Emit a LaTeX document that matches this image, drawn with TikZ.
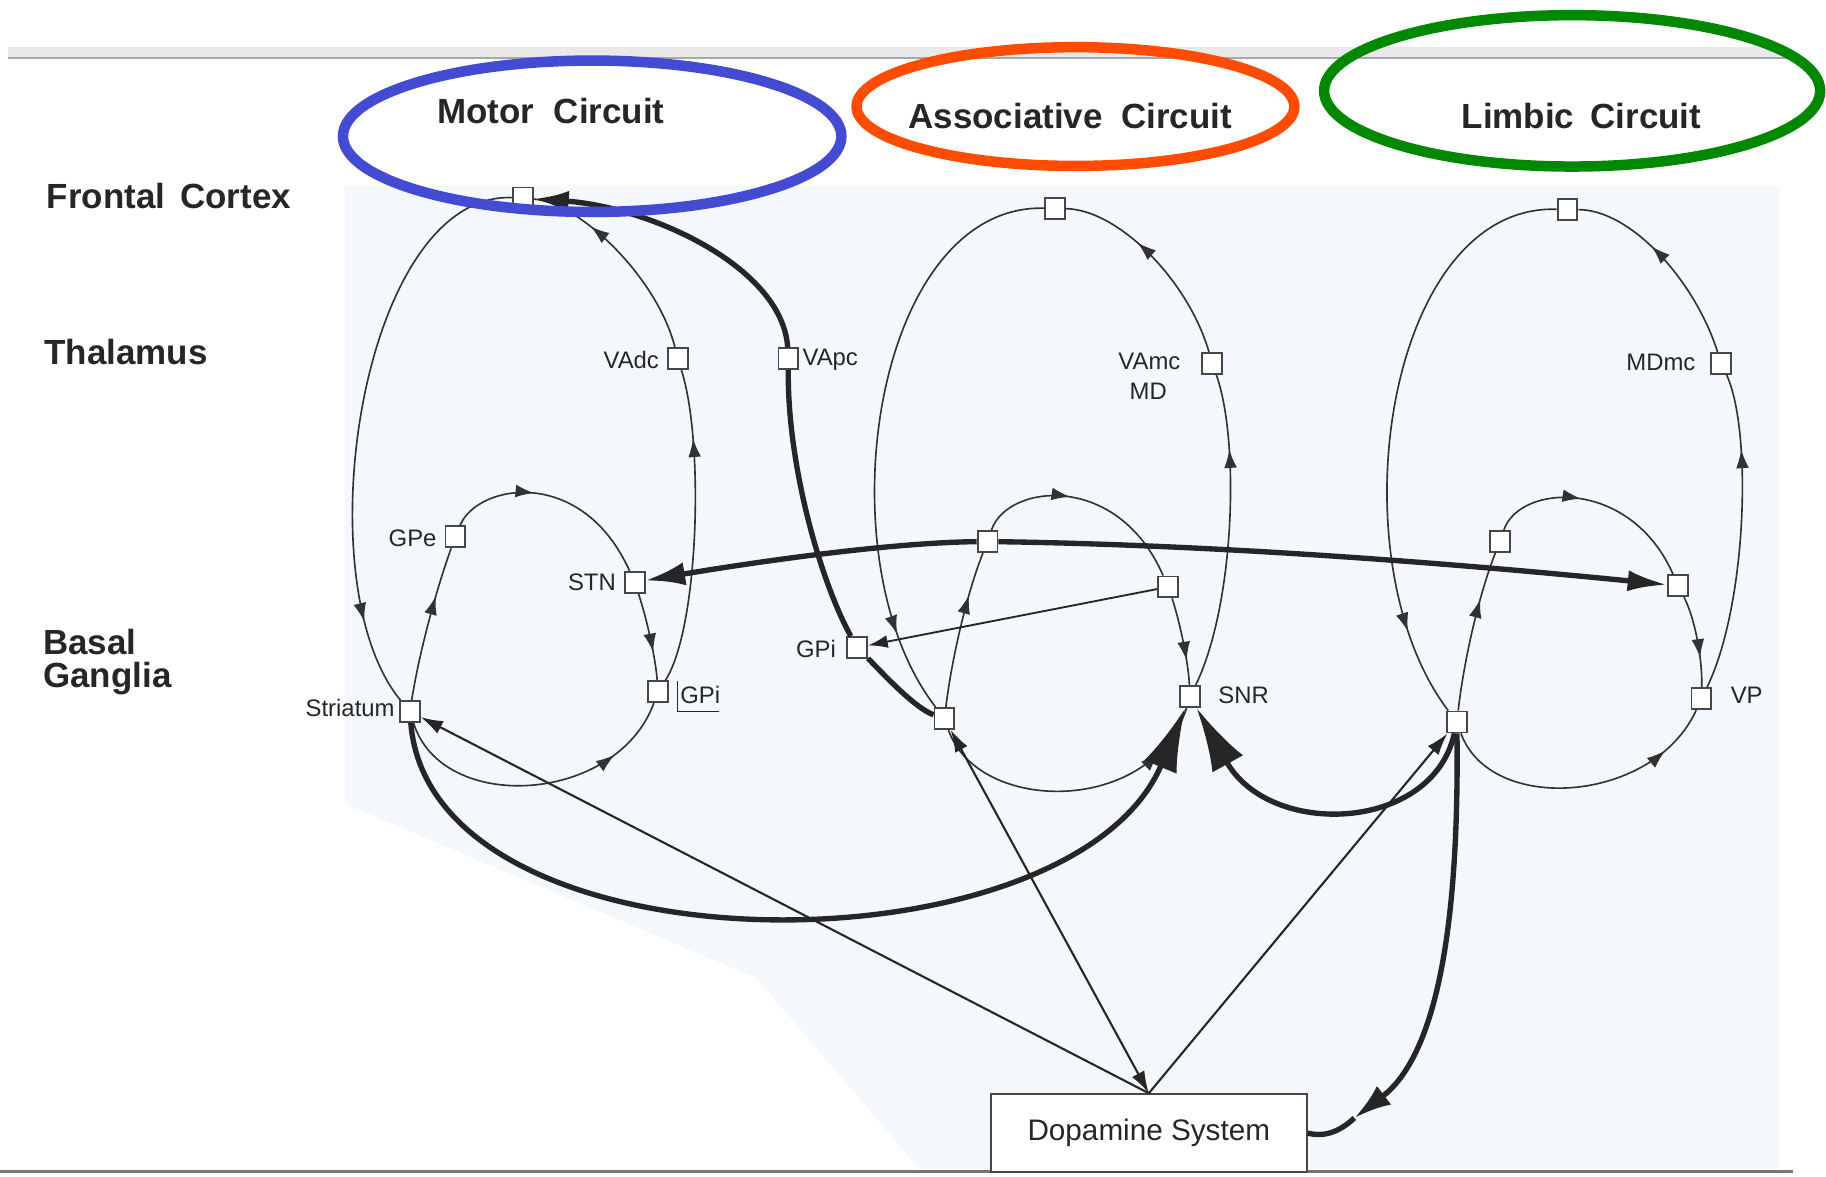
\documentclass[tikz,border=0pt]{standalone}
\usepackage{fontspec}
\setmainfont{Liberation Sans}
\usetikzlibrary{arrows.meta,decorations.markings}
\definecolor{ink}{RGB}{38,38,38}
\definecolor{thinc}{RGB}{50,50,50}
\definecolor{boxgray}{RGB}{70,70,70}
\definecolor{tint}{RGB}{244,247,251}
\definecolor{cblue}{RGB}{67,75,210}
\definecolor{corange}{RGB}{255,76,0}
\definecolor{cgreen}{RGB}{0,136,0}
\definecolor{rulegray}{RGB}{165,168,172}
\begin{document}
\begin{tikzpicture}[x=1pt,y=-1pt,
  box/.style={draw=boxgray, fill=white, line width=1.6pt, minimum width=17pt, minimum height=18pt, inner sep=0pt},
  loopline/.style={draw=thinc, line width=1.4pt},
  heavy/.style={draw=ink, line width=4.6pt},
  straightline/.style={draw=ink, line width=1.8pt},
  marr/.style={postaction={decorate,decoration={markings,mark=at position #1 with {\arrow{Latex[length=16pt,width=11pt]}}}}},
  lbl/.style={font=\fontsize{20.5}{22}\selectfont, text=ink, inner sep=0pt},
  big/.style={font=\bfseries\fontsize{30}{32}\selectfont, text=ink, inner sep=0pt},
]
\useasboundingbox (0,0) rectangle (1568,1010);
\fill[white] (0,0) rectangle (1568,1010);
\fill[tint] (296,160) -- (1528,160) -- (1528,1004) -- (790,1004) -- (650,840) -- (296,690) -- cycle;
% rules
\fill[rulegray!25] (7,40) rectangle (1535,50);
\draw[rulegray, line width=1.5pt] (7,50) -- (1535,50);
\draw[rulegray!70!black, line width=2pt] (0,1006) -- (1540,1006);

% row labels
\node[big, anchor=west] (tFC) at (40,168) {Frontal\hspace{13pt}Cortex};
\node[big, anchor=west] (tTh) at (38,302) {Thalamus};
\node[big, anchor=west] (tBa) at (37,551) {Basal};
\node[big, anchor=west] (tGa) at (37,583) {Ganglia};
\node[big] (tMot) at (473,95) {Motor\hspace{17pt}Circuit};
\node[big] (tAss) at (919,100) {Associative\hspace{16pt}Circuit};
\node[big] (tLim) at (1358,100) {Limbic\hspace{14pt}Circuit};

% motor nodes
\node[box] (fcM) at (449,170) {};
\node[box] (vadc) at (582,308) {};
\node[box] (vapc) at (677,308) {};
\node[box] (gpeM) at (391,461) {};
\node[box] (stnM) at (545,500) {};
\node[box] (gpiM) at (565,594) {};
\node[box] (strM) at (352,611) {};
% associative nodes
\node[box] (fcA) at (906,179) {};
\node[box] (vamc) at (1041,312) {};
\node[box] (gpeA) at (848,465) {};
\node[box] (stnA) at (1003,504) {};
\node[box] (gpiA) at (736,556) {};
\node[box] (strA) at (811,617) {};
\node[box] (snr) at (1022,598) {};
% limbic nodes
\node[box] (fcL) at (1346,180) {};
\node[box] (mdmc) at (1478,312) {};
\node[box] (gpeL) at (1288,465) {};
\node[box] (stnL) at (1441,503) {};
\node[box] (vp) at (1461,600) {};
\node[box] (strL) at (1251,620) {};
% dopamine
\node[draw=boxgray, fill=white, line width=1.5pt, minimum width=271pt, minimum height=67pt, inner sep=0pt,
      font=\fontsize{25.5}{27}\selectfont, text=ink] (dopa) at (986.5,973) {Dopamine System\hspace{12pt}};

% small labels
\node[lbl, anchor=east] (lVAdc) at (566,309) {VAdc};
\node[lbl, anchor=west] (lVApc) at (689,309) {VApc};
\node[lbl, anchor=east] (lGPe) at (375,462) {GPe};
\node[lbl, anchor=east] (lSTN) at (529,500) {STN};
\node[lbl, anchor=west] (lGPi) at (584,597) {GPi};
\draw[ink, line width=1pt] (582,585) -- (582,611) -- (617,611);
\node[lbl, anchor=east] (lStr) at (339,608) {Striatum};
\node[lbl, anchor=east] (lGPI) at (718,557) {GPi};
\node[lbl] (lVAmc) at (987,310) {VAmc};
\node[lbl] (lMD) at (986,336) {MD};
\node[lbl, anchor=east] (lMDmc) at (1456,311) {MDmc};
\node[lbl, anchor=west] (lSNR) at (1046,597) {SNR};
\node[lbl, anchor=west] (lVP) at (1486,597) {VP};

% motor loop
\draw[loopline, marr=0.85] (fcM) .. controls (310,165) and (260,500) .. (strM);
\draw[loopline, marr=0.68] (strM) .. controls (360,560) and (375,505) .. (gpeM);
\draw[loopline, marr=0.4] (gpeM) .. controls (410,415) and (500,400) .. (stnM);
\draw[loopline, marr=0.68] (stnM) .. controls (555,530) and (563,565) .. (gpiM);
\draw[loopline, marr=0.78] (strM) .. controls (380,700) and (530,690) .. (gpiM);
\draw[loopline, marr=0.78] (gpiM) .. controls (600,540) and (605,380) .. (vadc);
\draw[loopline, marr=0.7] (vadc) .. controls (565,240) and (500,175) .. (fcM);
% associative loop
\draw[loopline, marr=0.86] (fcA) .. controls (750,175) and (705,480) .. (strA);
\draw[loopline, marr=0.72] (strA) .. controls (818,560) and (832,505) .. (gpeA);
\draw[loopline, marr=0.42] (gpeA) .. controls (865,415) and (960,405) .. (stnA);
\draw[loopline, marr=0.72] (stnA) .. controls (1012,530) and (1020,565) .. (snr);
\draw[loopline, marr=0.82] (strA) .. controls (840,700) and (990,700) .. (snr);
\draw[loopline, marr=0.76] (snr) .. controls (1060,520) and (1065,380) .. (vamc);
\draw[loopline, marr=0.62] (vamc) .. controls (1020,240) and (960,180) .. (fcA);
% limbic loop
\draw[loopline, marr=0.85] (fcL) .. controls (1190,175) and (1145,480) .. (strL);
\draw[loopline, marr=0.7] (strL) .. controls (1258,560) and (1272,505) .. (gpeL);
\draw[loopline, marr=0.42] (gpeL) .. controls (1305,415) and (1400,410) .. (stnL);
\draw[loopline, marr=0.68] (stnL) .. controls (1455,530) and (1462,565) .. (vp);
\draw[loopline, marr=0.82] (strL) .. controls (1280,700) and (1420,690) .. (vp);
\draw[loopline, marr=0.76] (vp) .. controls (1500,520) and (1505,370) .. (mdmc);
\draw[loopline, marr=0.6] (mdmc) .. controls (1455,240) and (1400,180) .. (fcL);

% thin straight connections
\draw[straightline, line width=1.6pt, -{Latex[length=17pt,width=11pt]}] (stnA) -- (gpiA);
\draw[straightline, -{Latex[length=19pt,width=12pt]}] (dopa.north) -- (strM);
\draw[straightline, {Latex[length=19pt,width=12pt]}-{Latex[length=19pt,width=12pt]}] (dopa.north) -- (strA);
\draw[straightline, -{Latex[length=19pt,width=12pt]}] (dopa.north) -- (strL);

% heavy connections
\draw[heavy, -{Latex[length=30pt,width=18pt]}] (strA) .. controls (785,608) and (755,575) .. (gpiA)
      .. controls (705,500) and (676,400) .. (vapc) .. controls (672,230) and (560,178) .. (fcM);
\draw[heavy, -{Latex[length=34pt,width=20pt]}] (gpeA) .. controls (760,466) and (640,484) .. (stnM);
\draw[heavy, -{Latex[length=34pt,width=18pt]}] (gpeA) .. controls (1050,468) and (1250,484) .. (stnL);
\draw[heavy, -{Latex[length=55pt,width=30pt]}] (strM) .. controls (370,840) and (920,840) .. (snr);
\draw[heavy, -{Latex[length=55pt,width=30pt]}] (strL) .. controls (1230,715) and (1090,720) .. (snr);
\coordinate (dtip) at (1163,960);
\draw[heavy, -{Latex[length=32pt,width=20pt]}] (strL) .. controls (1253,790) and (1235,905) .. (dtip);
\draw[heavy] (dtip) .. controls (1148,974) and (1135,976) .. (dopa.east);

% coloured annotation ellipses
\draw[cblue, line width=9pt] (508.5,117) ellipse [x radius=214, y radius=65];
\draw[corange, line width=9pt] (923.5,91.5) ellipse [x radius=188, y radius=51];
\draw[cgreen, line width=9pt] (1350,78) ellipse [x radius=213, y radius=65];
\end{tikzpicture}
\end{document}
